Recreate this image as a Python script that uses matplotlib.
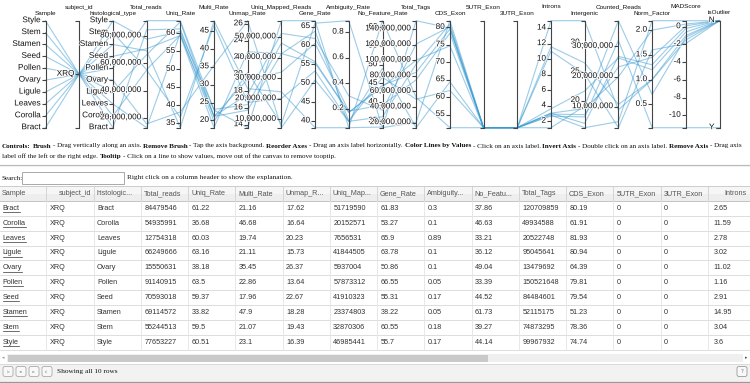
import math
import matplotlib
matplotlib.use('Agg')
import matplotlib.pyplot as plt
import matplotlib.patheffects as pe
from matplotlib.patches import Rectangle, FancyBboxPatch
from matplotlib.transforms import offset_copy

# ---- data ----
samples = ['Bract', 'Corolla', 'Leaves', 'Ligule', 'Ovary', 'Pollen', 'Seed', 'Stamen', 'Stem', 'Style']
subject_id = ['XRQ'] * 10
histological_type = list(samples)
total_reads = [84479546, 54935991, 12754318, 66249666, 15550631, 91140915, 70593018, 69114572, 55244513, 77653227]
uniq_rate = [61.22, 36.68, 60.03, 63.16, 38.18, 63.5, 59.37, 33.82, 59.5, 60.51]
multi_rate = [21.16, 46.68, 19.74, 21.11, 35.45, 22.86, 17.96, 47.9, 21.07, 23.1]
unmap_rate = [17.62, 16.64, 20.23, 15.73, 26.37, 13.64, 22.67, 18.28, 19.43, 16.39]
uniq_mapped_reads = [51719590, 20152571, 7656531, 41844505, 5937004, 57873312, 41910323, 23374803, 32870306, 46985441]
gene_rate = [61.83, 53.27, 65.9, 63.78, 50.86, 66.55, 55.31, 38.22, 60.55, 55.7]
ambiguity_rate = [0.3, 0.1, 0.89, 0.1, 0.1, 0.05, 0.17, 0.05, 0.18, 0.17]
no_feature_rate = [37.86, 46.63, 33.21, 36.12, 49.04, 33.39, 44.52, 61.73, 39.27, 44.14]
total_tags = [120709859, 49934588, 20522748, 95045641, 13479692, 150521648, 84484601, 52115175, 74873295, 99967932]
cds_exon = [80.19, 61.91, 81.93, 80.94, 64.39, 79.81, 79.54, 51.23, 78.36, 74.74]
utr5_exon = [0] * 10
utr3_exon = [0] * 10
introns = [2.65, 11.59, 2.78, 3.02, 11.02, 1.16, 2.91, 14.95, 3.04, 3.6]
# (not in the visible table)
intergenic = [17.16, 26.5, 15.29, 16.04, 24.59, 19.03, 17.55, 33.82, 18.6, 21.66]
counted_reads = [31978000, 10735000, 5046000, 26688000, 3020000, 38515000, 23181000, 8934000, 19903000, 26171000]
norm_factor = [0.03, 1.0, 2.19, 1.3, 1.6, 0.7, 1.45, 1.0, 2.0, 1.2]
mad_score = [-11.4, -1.5, 0.68, -0.2, -1.9, -1.2, 0.1, -1.0, 0.3, -0.6]
is_outlier = ['Y', 'N', 'N', 'N', 'N', 'N', 'N', 'N', 'N', 'N']

dims = ['Sample', 'subject_id', 'histological_type', 'Total_reads', 'Uniq_Rate', 'Multi_Rate',
        'Unmap_Rate', 'Uniq_Mapped_Reads', 'Gene_Rate', 'Ambiguity_Rate', 'No_Feature_Rate',
        'Total_Tags', 'CDS_Exon', '5UTR_Exon', '3UTR_Exon', 'Introns', 'Intergenic',
        'Counted_Reads', 'Norm_Factor', 'MADScore', 'isOutlier']
dim_values = [samples, subject_id, histological_type, total_reads, uniq_rate, multi_rate,
              unmap_rate, uniq_mapped_reads, gene_rate, ambiguity_rate, no_feature_rate,
              total_tags, cds_exon, utr5_exon, utr3_exon, introns, intergenic,
              counted_reads, norm_factor, mad_score, is_outlier]

table_headers = ['Sample', 'subject_id', 'histologic...', 'Total_reads', 'Uniq_Rate', 'Multi_Rate',
                 'Unmap_R...', 'Uniq_Map...', 'Gene_Rate', 'Ambiguity...', 'No_Featu...', 'Total_Tags',
                 'CDS_Exon', '5UTR_Exon', '3UTR_Exon', 'Introns']

W, H = 750, 383
LINE_COLOR = '#3a9ad0'
AXIS_COLOR = '#444444'
SANS = 'Liberation Sans'
SERIF = 'Liberation Serif'


def d3_ticks(lo, hi, m=5):
    span = hi - lo
    if span <= 0:
        return [], 1
    step = 10 ** math.floor(math.log10(span / m))
    err = m / span * step
    if err <= .15:
        step *= 10
    elif err <= .35:
        step *= 5
    elif err <= .75:
        step *= 2
    start = math.ceil(lo / step) * step
    ticks = []
    v = start
    while v <= hi + step * 1e-9:
        ticks.append(v)
        v += step
    return ticks, step


def fmt_tick(v, step):
    dec = max(0, -int(math.floor(math.log10(step) + 0.01)))
    if dec == 0:
        return '{:,}'.format(int(round(v)))
    return '{:.{}f}'.format(v, dec)


def scale(values):
    """returns normalised positions (0 bottom, 1 top), tick positions and labels"""
    if isinstance(values[0], str):
        domain = []
        for v in values:
            if v not in domain:
                domain.append(v)
        n = len(domain)
        pos = {d: (i / (n - 1) if n > 1 else 0.5) for i, d in enumerate(domain)}
        return [pos[v] for v in values], [pos[d] for d in domain], domain
    lo, hi = min(values), max(values)
    if hi == lo:
        return [0.0] * len(values), [], []
    ticks, step = d3_ticks(lo, hi)
    return ([(v - lo) / (hi - lo) for v in values],
            [(t - lo) / (hi - lo) for t in ticks],
            [fmt_tick(t, step) for t in ticks])


fig = plt.figure(figsize=(W / 100, H / 100), dpi=100)
fig.patch.set_facecolor('white')
bg = fig.add_axes([0, 0, 1, 1])
bg.set_xlim(0, W)
bg.set_ylim(H, 0)
bg.axis('off')
renderer = fig.canvas.get_renderer()

# ---- parallel coordinates ----
pc_left, pc_right, pc_top, pc_bottom = 45.5, 719.5, 20.7, 127.7
pc = fig.add_axes([pc_left / W, 1 - pc_bottom / H, (pc_right - pc_left) / W, (pc_bottom - pc_top) / H])
pc.set_xlim(0, len(dims) - 1)
pc.set_ylim(0, 1)
pc.axis('off')
pc.patch.set_alpha(0)

scaled = [scale(v) for v in dim_values]
xs = list(range(len(dims)))
for r in range(len(samples)):
    ys = [s[0][r] for s in scaled]
    pc.plot(xs, ys, color=LINE_COLOR, alpha=0.5, lw=0.8, clip_on=False, zorder=1)

halo = [pe.withStroke(linewidth=1.2, foreground='white')]
lab_tr = offset_copy(pc.transData, fig=fig, x=-5, y=0, units='dots')
for i, name in enumerate(dims):
    pc.plot([i, i], [0, 1], color=AXIS_COLOR, lw=0.8, clip_on=False, zorder=3)
    # outer ticks
    pc.plot([i, i], [0, 1], ls='', marker=0, ms=3.2, mew=0.8, color=AXIS_COLOR, clip_on=False, zorder=3)
    _, tpos, tlab = scaled[i]
    if tpos:
        pc.plot([i] * len(tpos), tpos, ls='', marker=0, ms=2.6, mew=0.8, color=AXIS_COLOR,
                clip_on=False, zorder=3)
    for p, lab in zip(tpos, tlab):
        pc.text(i, p, lab, transform=lab_tr, ha='right', va='center', fontsize=5.9,
                family=SANS, color='#111111', zorder=4, path_effects=halo)
    dy = 13.7 if i % 2 == 1 else 7.7
    pc.text(i, 1, name, transform=offset_copy(pc.transData, fig=fig, x=0, y=dy, units='dots'),
            ha='center', va='center', fontsize=4.6, family=SANS, color='#111111', zorder=4)


# ---- controls text ----
def draw_segments(y, segs, size, x0=2.0):
    x = x0
    arts = []
    for text, bold in segs:
        t = bg.text(x, y, text, fontsize=size, family=SERIF, fontweight='bold' if bold else 'normal',
                    va='center', ha='left', color='#111111')
        x += t.get_window_extent(renderer).width + size * 100 / 72 * 0.25
        arts.append(t)
    return x - x0, arts


line1 = [('Controls:', True), ('Brush', True), ('- Drag vertically along an axis.', False),
         ('Remove Brush', True), ('- Tap the axis background.', False), ('Reorder Axes', True),
         ('- Drag an axis label horizontally.', False), ('Color Lines by Values', True),
         ('- Click on an axis label.', False), ('Invert Axis', True),
         ('- Double click on an axis label.', False), ('Remove Axis', True), ('- Drag axis', False)]
line2 = [('label off the left or the right edge.', False), ('Tooltip', True),
         ('- Click on a line to show values, move out of the canvas to remove tooptip.', False)]

width, arts = draw_segments(146, line1, 5.0)
for a in arts:
    a.remove()
ctrl_size = 5.0 * 744 / width
draw_segments(146, line1, ctrl_size)
draw_segments(156.5, line2, ctrl_size)

bg.plot([0, W], [165, 165], color='#bbbbbb', lw=0.9)
bg.plot([0, W], [166, 166], color='#eeeeee', lw=0.6)

bg.text(2, 178, 'Search:', fontsize=ctrl_size, family=SERIF, va='center', color='#111111')
bg.add_patch(Rectangle((22, 172), 102, 12, facecolor='white', edgecolor='#a9a9a9', lw=0.7))
bg.text(127, 178, 'Right click on a column header to show the explanation.', fontsize=ctrl_size * 1.03,
        family=SERIF, va='center', color='#111111')

# ---- table ----
col_x0, col_w = -1.0, 47.25
head_top, head_bot = 186, 201
row_h = 14.85
rows = [samples, subject_id, histological_type, total_reads, uniq_rate, multi_rate, unmap_rate,
        uniq_mapped_reads, gene_rate, ambiguity_rate, no_feature_rate, total_tags, cds_exon,
        utr5_exon, utr3_exon, introns]
n_rows = len(samples)
table_bot = head_bot + row_h * n_rows

bg.add_patch(Rectangle((0, head_top), W, head_bot - head_top, facecolor='#eeeeee', edgecolor='none'))
bg.add_patch(Rectangle((0, head_top), W, (head_bot - head_top) / 2, facecolor='#f6f6f6', edgecolor='none'))
bg.plot([0, W], [head_top, head_top], color='#cccccc', lw=0.7)
bg.plot([0, W], [head_bot, head_bot], color='#c4c4c4', lw=0.7)
for r in range(1, n_rows + 1):
    yb = head_bot + r * row_h
    bg.plot([0, W], [yb, yb], color='#dddddd', lw=0.7)
for c in range(1, len(table_headers)):
    xb = col_x0 + c * col_w
    bg.plot([xb, xb], [head_top, head_bot], color='#cfcfcf', lw=0.6)
    bg.plot([xb, xb], [head_bot, table_bot], color='#e4e4e4', lw=0.6)

tfont = dict(fontsize=5.2, family=SANS, va='center')
for c, head in enumerate(table_headers):
    left = col_x0 + c * col_w
    if head == 'subject_id':
        bg.text(left + col_w - 2, (head_top + head_bot) / 2, head, ha='right', color='#555555', **tfont)
    elif head == 'Introns':
        bg.text(left + 17, (head_top + head_bot) / 2, head, ha='left', color='#555555', **tfont)
    else:
        bg.text(left + 3, (head_top + head_bot) / 2, head, ha='left', color='#555555', **tfont)
    pad = 6 if head == 'Introns' else 3.5
    for r in range(n_rows):
        yc = head_bot + row_h * (r + 0.5)
        t = bg.text(left + pad, yc, str(rows[c][r]), ha='left', color='#333333', **tfont)
        if c == 0:
            tw = t.get_window_extent(renderer).width
            bg.plot([left + pad, left + pad + tw], [yc + 3.8, yc + 3.8], color='#333333', lw=0.5)

# scrollbar
bg.add_patch(Rectangle((7, 354), 736, 8, facecolor='#efefef', edgecolor='none'))
bg.add_patch(Rectangle((8, 354.5), 480, 7, facecolor='#c9c9c9', edgecolor='none'))
bg.text(3, 358, '\u25c2', fontsize=3.5, ha='center', va='center', color='#999999')
bg.text(746, 358, '\u25b8', fontsize=3.5, ha='center', va='center', color='#555555')

# footer
bg.add_patch(Rectangle((0, 363.5), W, 18.5, facecolor='#f2f2f2', edgecolor='none'))
bg.plot([0, W], [363.5, 363.5], color='#d6d6d6', lw=0.6)
bg.plot([0, W], [382, 382], color='#999999', lw=0.9)
for k, glyph in enumerate(['|\u25c2', '\u25c2\u25c2', '\u25b8\u25b8', '\u25b8|']):
    bx = 3 + k * 13
    bg.add_patch(FancyBboxPatch((bx, 366.5), 10, 10, boxstyle='round,pad=0,rounding_size=2',
                                facecolor='#f8f8f8', edgecolor='#aaaaaa', lw=0.6))
    bg.text(bx + 5, 371.5, glyph, fontsize=2.8, ha='center', va='center', color='#aaaaaa')
bg.text(57, 371.5, 'Showing all 10 rows', fontsize=ctrl_size * 1.03, family=SERIF, va='center', color='#111111')
bg.add_patch(FancyBboxPatch((737, 366.5), 10, 10, boxstyle='round,pad=0,rounding_size=2',
                            facecolor='#f8f8f8', edgecolor='#999999', lw=0.6))
bg.text(742, 371.5, '?', fontsize=4, ha='center', va='center', color='#777777')

fig.savefig('out.png', dpi=100, facecolor='white')
